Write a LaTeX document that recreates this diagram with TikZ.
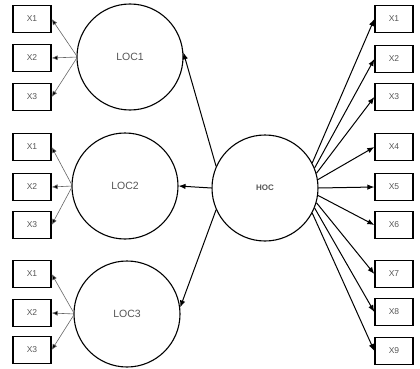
\documentclass[tikz,border=0pt]{standalone}
\usepackage{fontspec}
\setmainfont{Liberation Sans}
\usetikzlibrary{arrows.meta}
\definecolor{txt}{HTML}{555555}
\definecolor{thin}{HTML}{666666}
\begin{document}
\begin{tikzpicture}[x=1pt,y=-1pt,
  ind/.style={draw=black,line width=1.3pt,minimum width=38pt,minimum height=27pt,
    inner sep=0pt,font=\fontsize{8.5}{9}\selectfont,text=txt},
  lat/.style={draw=black,line width=1.1pt,circle,minimum size=106pt,inner sep=0pt,
    font=\fontsize{10.5}{11}\selectfont,text=txt},
  load/.style={draw=thin,line width=0.6pt,-{Latex[length=6pt,width=5pt,fill=black]}},
  path/.style={draw=black,line width=1pt,-{Latex[length=7pt,width=5.5pt]}}]
\useasboundingbox (0,0) rectangle (420,369);

% latent constructs
\node[lat] (loc1) at (130,57) {LOC1};
\node[lat] (loc2) at (125,186) {LOC2};
\node[lat] (loc3) at (127,314) {LOC3};
\node[lat,font=\fontsize{8}{9}\selectfont\bfseries] (hoc) at (265,188) {HOC};

% indicators of the lower-order constructs
\foreach \g/\ya/\yb/\yc in {1/19/58/97, 2/147/187/225, 3/274/313/350}{
  \node[ind] (a\g x1) at (32,\ya) {X1};
  \node[ind] (a\g x2) at (32,\yb) {X2};
  \node[ind] (a\g x3) at (32,\yc) {X3};
}

% indicators of the higher-order construct
\foreach \i/\y in {1/19,2/59,3/97,4/147,5/187,6/225,7/274,8/312,9/351}{
  \node[ind] (h\i) at (394,\y) {X\i};
}

% loadings of the lower-order constructs
\foreach \g in {1,2,3}{
  \coordinate (s\g) at ([xshift=1pt]loc\g.west);
  \draw[load] (s\g) -- (a\g x1.east);
  \draw[load] (s\g) -- (a\g x2.east);
  \draw[load] (s\g) -- (a\g x3.east);
}

% higher-order paths
\draw[path] (hoc.156) -- (loc1.5);
\draw[path] (hoc.west) -- (loc2.east);
\draw[path] (hoc.204) -- (loc3.7);

% higher-order loadings
\foreach \i/\a in {1/28,2/22,3/16,4/9,5/0,6/-8,7/-16,8/-22,9/-28}{
  \draw[path] (hoc.\a) -- (h\i.west);
}
\end{tikzpicture}
\end{document}
